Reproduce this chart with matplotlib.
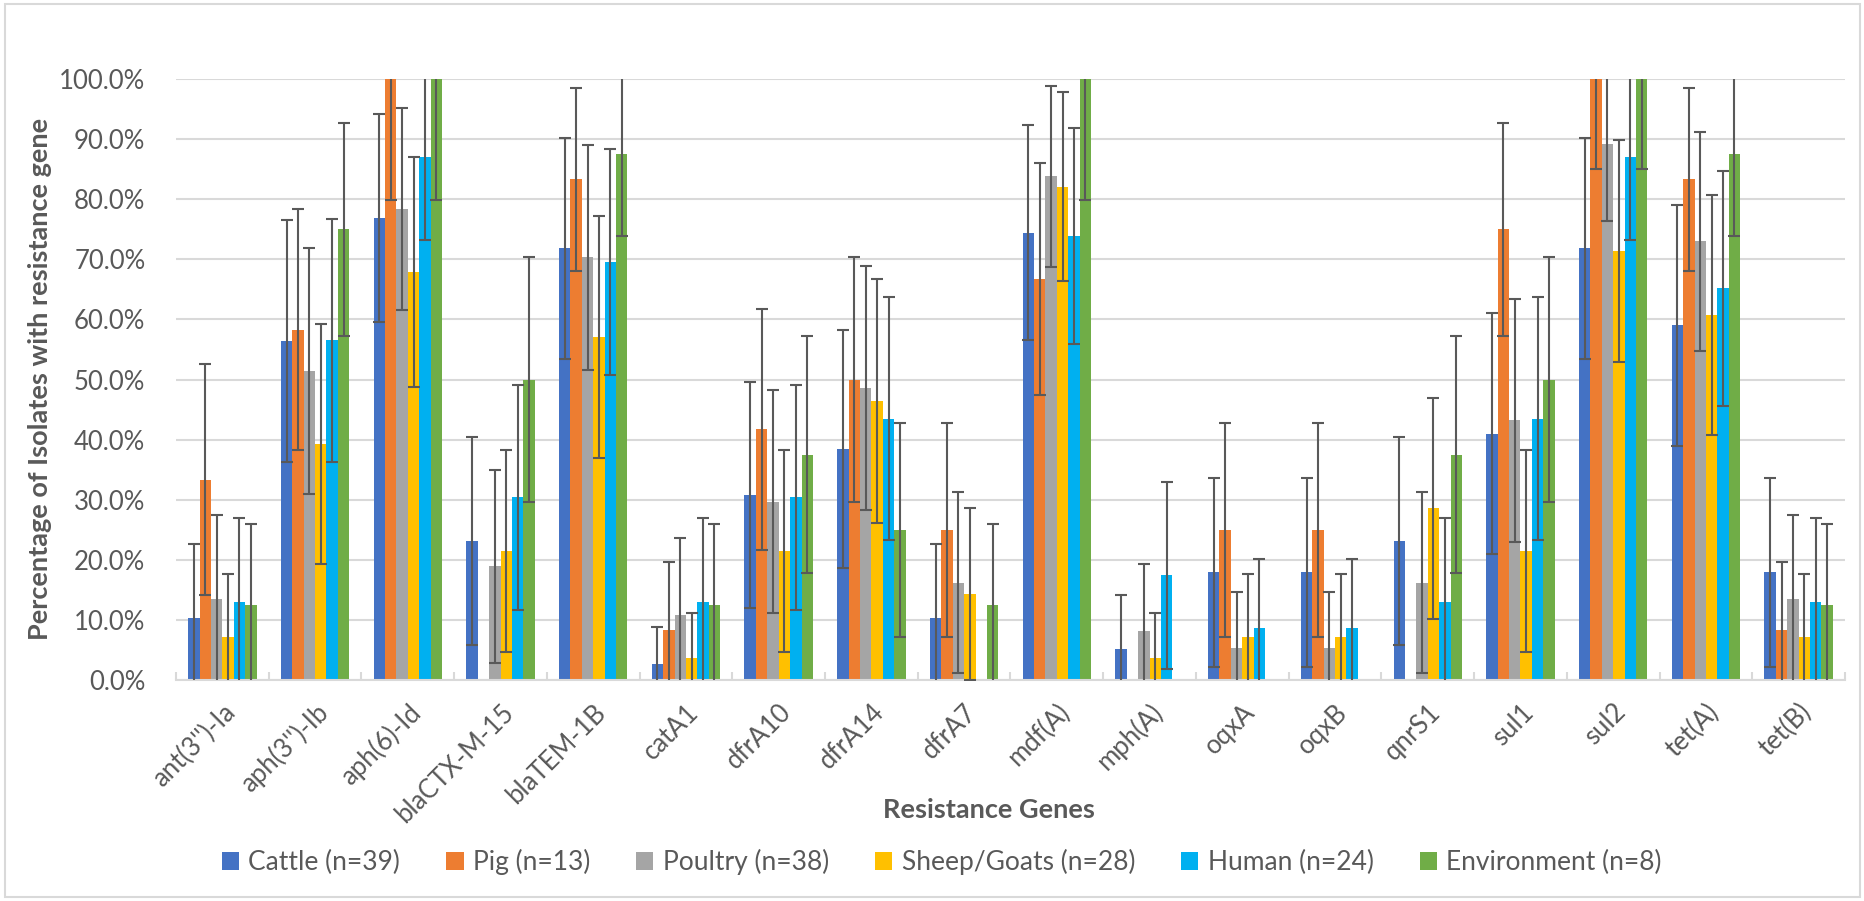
import numpy as np
import matplotlib.pyplot as plt
from matplotlib.patches import Rectangle

plt.rcParams['font.family'] = ['Lato', 'DejaVu Sans']

genes = ["ant(3'')-Ia", "aph(3'')-Ib", "aph(6)-Id", "blaCTX-M-15", "blaTEM-1B", "catA1",
         "dfrA10", "dfrA14", "dfrA7", "mdf(A)", "mph(A)", "oqxA", "oqxB", "qnrS1",
         "sul1", "sul2", "tet(A)", "tet(B)"]

series_names = ["Cattle (n=39)", "Pig (n=13)", "Poultry (n=38)",
                "Sheep/Goats (n=28)", "Human (n=24)", "Environment (n=8)"]
colors = ["#4472C4", "#ED7D31", "#A5A5A5", "#FFC000", "#00B0F0", "#70AD47"]

# percentage of isolates carrying each gene
cattle = [10.3, 56.4, 76.9, 23.1, 71.8, 2.6, 30.8, 38.5, 10.3, 74.4, 5.1, 17.9, 17.9, 23.1, 41.0, 71.8, 59.0, 17.9]
pig = [33.3, 58.3, 100.0, 0.0, 83.3, 8.3, 41.7, 50.0, 25.0, 66.7, 0.0, 25.0, 25.0, 0.0, 75.0, 100.0, 83.3, 8.3]
poultry = [13.5, 51.4, 78.4, 18.9, 70.3, 10.8, 29.7, 48.6, 16.2, 83.8, 8.1, 5.4, 5.4, 16.2, 43.2, 89.2, 73.0, 13.5]
sheep = [7.1, 39.3, 67.9, 21.4, 57.1, 3.6, 21.4, 46.4, 14.3, 82.1, 3.6, 7.1, 7.1, 28.6, 21.4, 71.4, 60.7, 7.1]
human = [13.0, 56.5, 87.0, 30.4, 69.6, 13.0, 30.4, 43.5, 0.0, 73.9, 17.4, 8.7, 8.7, 13.0, 43.5, 87.0, 65.2, 13.0]
environment = [12.5, 75.0, 100.0, 50.0, 87.5, 12.5, 37.5, 25.0, 12.5, 100.0, 0.0, 0.0, 0.0, 37.5, 50.0, 100.0, 87.5, 12.5]

# 95% confidence half-widths (percentage points)
cattle_err = [12.3, 20.2, 17.3, 17.3, 18.4, 6.3, 18.8, 19.8, 12.4, 17.9, 9.0, 15.75, 15.75, 17.3, 20.0, 18.4, 20.1, 15.75]
pig_err = [19.2, 20.0, 20.1, 0.0, 15.25, 11.4, 20.1, 20.3, 17.8, 19.35, 0.0, 17.8, 17.8, 0.0, 17.7, 15.0, 15.25, 11.4]
poultry_err = [14.0, 20.4, 16.8, 16.05, 18.7, 12.8, 18.6, 20.3, 15.1, 15.05, 11.2, 9.3, 9.3, 15.1, 20.2, 12.8, 18.2, 14.0]
sheep_err = [10.6, 20.0, 19.2, 16.8, 20.1, 7.6, 16.8, 20.3, 14.3, 15.7, 7.6, 10.6, 10.6, 18.4, 16.8, 18.5, 19.95, 10.6]
human_err = [13.9, 20.2, 13.8, 18.7, 18.8, 13.9, 18.7, 20.2, 0.0, 18.0, 15.5, 11.5, 11.5, 13.9, 20.2, 13.8, 19.55, 13.9]
environment_err = [13.5, 17.7, 20.1, 20.3, 13.6, 13.5, 19.7, 17.8, 13.5, 20.1, 0.0, 0.0, 0.0, 19.7, 20.3, 15.0, 13.6, 13.5]

values = [cattle, pig, poultry, sheep, human, environment]
errors = [cattle_err, pig_err, poultry_err, sheep_err, human_err, environment_err]

txt = '#595959'
grid = '#D9D9D9'

fig = plt.figure(figsize=(18.65, 9.01), dpi=100)
ax = fig.add_axes([176 / 1865, 1 - 680 / 901, 1669 / 1865, 601 / 901])

x = np.arange(len(genes))
w = 0.123
for i, (vals, errs) in enumerate(zip(values, errors)):
    pos = x + (i - 2.5) * w
    ax.bar(pos, vals, width=w, color=colors[i], label=series_names[i], zorder=2)
    e = np.array(errs)
    keep = e > 0
    ax.errorbar(pos[keep], np.array(vals)[keep], yerr=e[keep], fmt='none',
                ecolor='#595959', elinewidth=1.5, capsize=4.3, capthick=1.5, zorder=3)

ax.set_xlim(-0.5, len(genes) - 0.5)
ax.set_ylim(0, 100)
ax.set_yticks(np.arange(0, 101, 10))
ax.set_yticklabels([f'{v:.1f}%' for v in np.arange(0, 101, 10)])
ax.yaxis.grid(True, color=grid, linewidth=1.5, zorder=0)
ax.set_axisbelow(True)

for s in ['top', 'right', 'left']:
    ax.spines[s].set_visible(False)
ax.spines['bottom'].set_color(grid)
ax.spines['bottom'].set_linewidth(1.5)

ax.set_xticks(x)
ax.set_xticklabels(genes, rotation=45, ha='right', va='top', rotation_mode='anchor')
ax.set_xticks(np.arange(-0.5, len(genes), 1), minor=True)
ax.tick_params(axis='x', which='major', length=0, pad=14, labelsize=18.5, labelcolor=txt)
ax.tick_params(axis='x', which='minor', direction='in', length=6, width=1.5, color=grid)
ax.tick_params(axis='y', length=0, pad=22, labelsize=18.5, labelcolor=txt)

fig.text(40 / 1865, 1 - 379 / 901, 'Percentage of Isolates with resistance gene',
         rotation=90, ha='center', va='center', fontsize=19.5, fontweight='bold', color=txt)
fig.text(989 / 1865, 1 - 810 / 901, 'Resistance Genes', ha='center', va='center',
         fontsize=19.5, fontweight='bold', color=txt)

leg = fig.legend(loc='center', bbox_to_anchor=(0.505, 1 - 862 / 901), ncol=6, frameon=False,
                 fontsize=19, handlelength=0.65, handleheight=0.65, handletextpad=0.35,
                 columnspacing=1.75)
for t in leg.get_texts():
    t.set_color(txt)

fig.patches.append(Rectangle((5 / 1865, 4 / 901), 1855 / 1865, 893 / 901, transform=fig.transFigure,
                             fill=False, edgecolor=grid, linewidth=1.5))

fig.savefig('out.png', dpi=100)
